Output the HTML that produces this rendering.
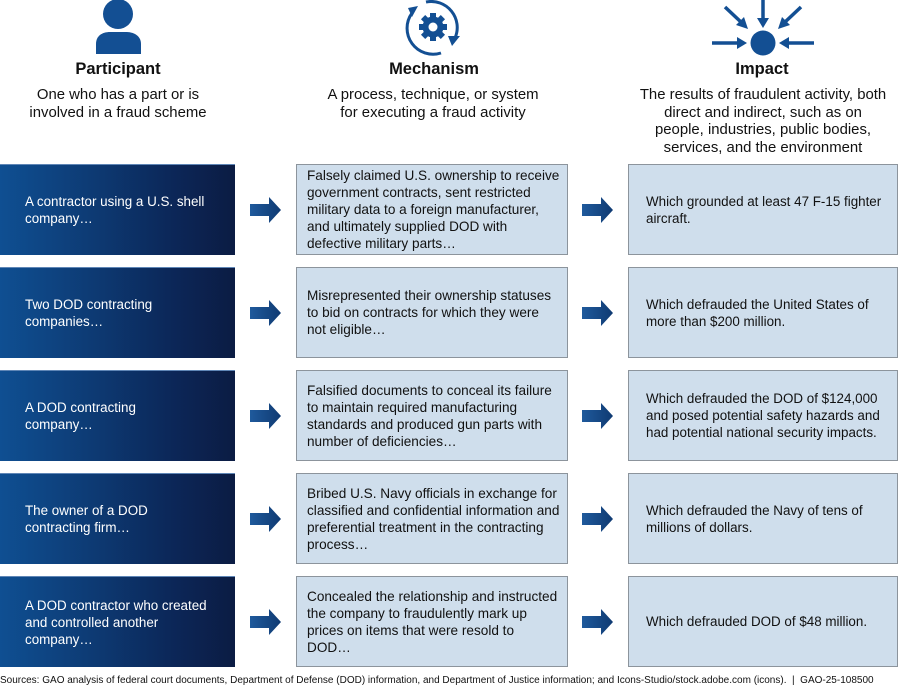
<!DOCTYPE html>
<html><head><meta charset="utf-8">
<style>
html,body{margin:0;padding:0;background:#fff;}
body{width:900px;height:689px;position:relative;overflow:hidden;font-family:"Liberation Sans",Arial,sans-serif;color:#111;}
.abs{position:absolute;}
.title{position:absolute;font-weight:bold;font-size:16.5px;text-align:center;line-height:20px;}
.desc{position:absolute;font-size:14.9px;text-align:center;line-height:17.7px;white-space:nowrap;}
.lbox{position:absolute;left:0;width:235px;height:91px;background:linear-gradient(to right,#0f4f92 0%,#0d3a73 40%,#0c2657 75%,#0b1c43 100%);border-top:1px solid #5f86b6;box-sizing:border-box;color:#fff;font-size:13.4px;line-height:17px;display:flex;align-items:center;padding-left:25px;white-space:nowrap;}
.mbox,.rbox{position:absolute;height:91px;background:#cfdeec;border:1px solid #8c949c;box-sizing:border-box;font-size:13.6px;line-height:17px;display:flex;align-items:center;color:#111;white-space:nowrap;}
.mbox{left:296px;width:272px;padding-left:10px;}
.rbox{left:628px;width:270px;padding-left:17px;font-size:13.4px;}
.arr{position:absolute;width:32px;height:26px;}
.foot{position:absolute;left:0;top:674px;font-size:10px;line-height:14px;white-space:nowrap;color:#111;}
</style></head><body>

<!-- Person icon -->
<svg class="abs" style="left:90px;top:0" width="56" height="56" viewBox="0 0 56 56">
  <circle cx="28" cy="14" r="15" fill="#134f93"/>
  <path d="M6,54 L6,44 C6,36 12,32 20,32 L36,32 C44,32 51,36 51,44 L51,54 Z" fill="#134f93"/>
</svg>

<!-- Gear icon -->
<svg class="abs" style="left:400px;top:0" width="68" height="58" viewBox="0 0 68 58">
  <g fill="none" stroke="#134f93" stroke-width="3">
    <path d="M26,2 A26,26 0 0 1 55,38"/>
    <path d="M41,53 A26,26 0 0 1 12,13"/>
  </g>
  <polygon points="52,46 60,36 48,36" fill="#134f93"/>
  <polygon points="8,8 18,6 12,17" fill="#134f93"/>
  <g transform="translate(33,27)" fill="#134f93">
    <circle r="10.5"/>
    <g>
      <rect x="-3" y="-14" width="6" height="6"/>
      <rect x="-3" y="8" width="6" height="6"/>
      <rect x="-14" y="-3" width="6" height="6"/>
      <rect x="8" y="-3" width="6" height="6"/>
      <g transform="rotate(45)">
        <rect x="-3" y="-14" width="6" height="6"/>
        <rect x="-3" y="8" width="6" height="6"/>
        <rect x="-14" y="-3" width="6" height="6"/>
        <rect x="8" y="-3" width="6" height="6"/>
      </g>
    </g>
    <circle r="4.5" fill="#fff"/>
  </g>
</svg>

<!-- Impact icon -->
<svg class="abs" style="left:705px;top:0" width="116" height="60" viewBox="0 0 116 60">
  <circle cx="58" cy="43" r="12.5" fill="#134f93"/>
  <g stroke="#134f93" stroke-width="3.5" fill="none">
    <line x1="7" y1="43" x2="34" y2="43"/>
    <line x1="109" y1="43" x2="82" y2="43"/>
    <line x1="58" y1="0" x2="58" y2="20"/>
    <line x1="20" y1="7" x2="37" y2="23"/>
    <line x1="96" y1="7" x2="79" y2="23"/>
  </g>
  <g fill="#134f93">
    <polygon points="42,43 32,37 32,49"/>
    <polygon points="74,43 84,37 84,49"/>
    <polygon points="58,28 52,18 64,18"/>
    <polygon points="43,29 31,25 39,17"/>
    <polygon points="73,29 85,25 77,17"/>
  </g>
</svg>

<div class="title" style="left:18px;width:200px;top:59px;">Participant</div>
<div class="title" style="left:334px;width:200px;top:59px;">Mechanism</div>
<div class="title" style="left:662px;width:200px;top:59px;">Impact</div>

<div class="desc" style="left:0;width:236px;top:87px;">One who has a part or is<br>involved in a fraud scheme</div>
<div class="desc" style="left:300px;width:266px;top:87px;">A process, technique, or system<br>for executing a fraud activity</div>
<div class="desc" style="left:620px;width:286px;top:87px;">The results of fraudulent activity, both<br>direct and indirect, such as on<br>people, industries, public bodies,<br>services, and the environment</div>

<!-- Row 1 -->
<div class="lbox" style="top:164px;">A contractor using a U.S. shell<br>company…</div>
<div class="mbox" style="top:164px;">Falsely claimed U.S. ownership to receive<br>government contracts, sent restricted<br>military data to a foreign manufacturer,<br>and ultimately supplied DOD with<br>defective military parts…</div>
<div class="rbox" style="top:164px;">Which grounded at least 47 F-15 fighter<br>aircraft.</div>

<!-- Row 2 -->
<div class="lbox" style="top:267px;">Two DOD contracting<br>companies…</div>
<div class="mbox" style="top:267px;">Misrepresented their ownership statuses<br>to bid on contracts for which they were<br>not eligible…</div>
<div class="rbox" style="top:267px;">Which defrauded the United States of<br>more than $200 million.</div>

<!-- Row 3 -->
<div class="lbox" style="top:370px;">A DOD contracting<br>company…</div>
<div class="mbox" style="top:370px;">Falsified documents to conceal its failure<br>to maintain required manufacturing<br>standards and produced gun parts with<br>number of deficiencies…</div>
<div class="rbox" style="top:370px;">Which defrauded the DOD of $124,000<br>and posed potential safety hazards and<br>had potential national security impacts.</div>

<!-- Row 4 -->
<div class="lbox" style="top:473px;">The owner of a DOD<br>contracting firm…</div>
<div class="mbox" style="top:473px;">Bribed U.S. Navy officials in exchange for<br>classified and confidential information and<br>preferential treatment in the contracting<br>process…</div>
<div class="rbox" style="top:473px;">Which defrauded the Navy of tens of<br>millions of dollars.</div>

<!-- Row 5 -->
<div class="lbox" style="top:576px;">A DOD contractor who created<br>and controlled another<br>company…</div>
<div class="mbox" style="top:576px;">Concealed the relationship and instructed<br>the company to fraudulently mark up<br>prices on items that were resold to<br>DOD…</div>
<div class="rbox" style="top:576px;">Which defrauded DOD of $48 million.</div>

<!-- Arrows -->
<svg width="0" height="0" style="position:absolute">
  <defs>
    <linearGradient id="ag" x1="0" x2="1" y1="0" y2="0">
      <stop offset="0" stop-color="#1f5a9c"/>
      <stop offset="1" stop-color="#0f3a72"/>
    </linearGradient>
  </defs>
</svg>
<svg class="arr" style="left:250px;top:197px" viewBox="0 0 32 26"><polygon points="0,7 19,7 19,0 31,13 19,26 19,19 0,19" fill="url(#ag)"/></svg>
<svg class="arr" style="left:582px;top:197px" viewBox="0 0 32 26"><polygon points="0,7 19,7 19,0 31,13 19,26 19,19 0,19" fill="url(#ag)"/></svg>
<svg class="arr" style="left:250px;top:300px" viewBox="0 0 32 26"><polygon points="0,7 19,7 19,0 31,13 19,26 19,19 0,19" fill="url(#ag)"/></svg>
<svg class="arr" style="left:582px;top:300px" viewBox="0 0 32 26"><polygon points="0,7 19,7 19,0 31,13 19,26 19,19 0,19" fill="url(#ag)"/></svg>
<svg class="arr" style="left:250px;top:403px" viewBox="0 0 32 26"><polygon points="0,7 19,7 19,0 31,13 19,26 19,19 0,19" fill="url(#ag)"/></svg>
<svg class="arr" style="left:582px;top:403px" viewBox="0 0 32 26"><polygon points="0,7 19,7 19,0 31,13 19,26 19,19 0,19" fill="url(#ag)"/></svg>
<svg class="arr" style="left:250px;top:506px" viewBox="0 0 32 26"><polygon points="0,7 19,7 19,0 31,13 19,26 19,19 0,19" fill="url(#ag)"/></svg>
<svg class="arr" style="left:582px;top:506px" viewBox="0 0 32 26"><polygon points="0,7 19,7 19,0 31,13 19,26 19,19 0,19" fill="url(#ag)"/></svg>
<svg class="arr" style="left:250px;top:609px" viewBox="0 0 32 26"><polygon points="0,7 19,7 19,0 31,13 19,26 19,19 0,19" fill="url(#ag)"/></svg>
<svg class="arr" style="left:582px;top:609px" viewBox="0 0 32 26"><polygon points="0,7 19,7 19,0 31,13 19,26 19,19 0,19" fill="url(#ag)"/></svg>

<div class="foot">Sources: GAO analysis of federal court documents, Department of Defense (DOD) information, and Department of Justice information; and Icons-Studio/stock.adobe.com (icons).&nbsp; |&nbsp; GAO-25-108500</div>

</body></html>
